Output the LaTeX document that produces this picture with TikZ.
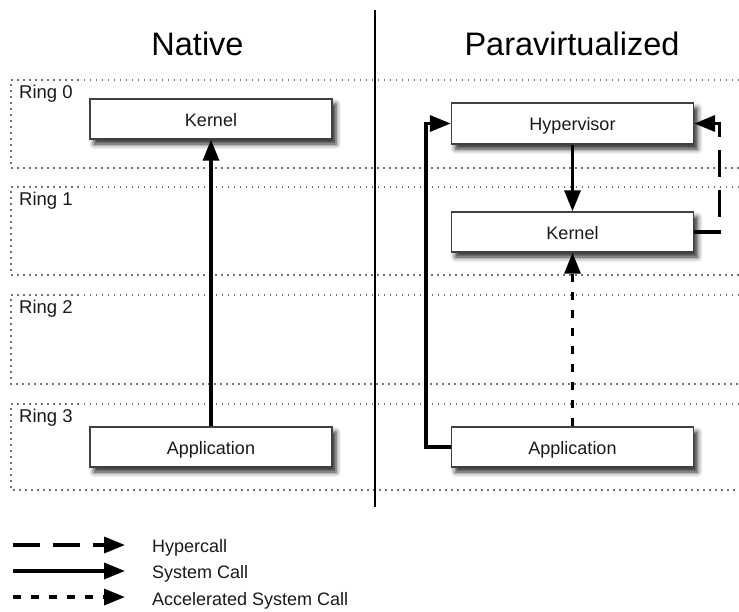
\documentclass[tikz,border=0pt]{standalone}
\usepackage{fontspec}
\setmainfont{Liberation Sans}
\usetikzlibrary{arrows.meta,shadows.blur}
\begin{document}
\begin{tikzpicture}[x=1pt,y=-1pt,
 ring/.style={draw=black!55, line width=1.3pt, dash pattern=on 1.5pt off 4.5pt},
 ringlabel/.style={anchor=base west, inner sep=0pt, font=\fontsize{18.5}{20}\selectfont, text=black!90},
 box/.style={draw=black!75, line width=1.4pt, fill=white, minimum width=242pt, minimum height=40pt, inner sep=0pt, text height=14pt, text depth=0pt, font=\fontsize{18}{20}\selectfont, text=black!90, blur shadow={shadow xshift=4pt, shadow yshift=-5pt, shadow blur radius=5pt, shadow opacity=85}},
 title/.style={anchor=base, inner sep=0pt, font=\fontsize{32.5}{36}\selectfont},
 call/.style={line width=3.4pt, -{Triangle[length=21pt,width=16pt]}},
 hyper/.style={call, dash pattern=on 27pt off 13pt},
 accel/.style={call, dash pattern=on 8pt off 10pt},
 legendtext/.style={anchor=base west, inner sep=0pt, font=\fontsize{18}{20}\selectfont, text=black!90}
]
\useasboundingbox (0,0) rectangle (739,611);

% ring bands
\draw[ring] (739,80) -- (11,80) -- (11,168) -- (739,168);
\draw[ring] (739,187) -- (11,187) -- (11,275) -- (739,275);
\draw[ring] (739,295) -- (11,295) -- (11,384) -- (739,384);
\draw[ring] (739,404) -- (11,404) -- (11,490) -- (739,490);
\node[ringlabel] (r0) at (19,98) {Ring 0};
\node[ringlabel] (r1) at (19,205) {Ring 1};
\node[ringlabel] (r2) at (19,313) {Ring 2};
\node[ringlabel] (r3) at (19,422) {Ring 3};

% divider and titles
\draw[line width=1.8pt] (375,10) -- (375,507);
\node[title] (tnative) at (197.5,55) {Native};
\node[title] (tpara) at (572,55) {Paravirtualized};

% boxes
\node[box] (nkern) at (211,119) {Kernel};
\node[box] (napp) at (211,447) {Application};
\node[box, minimum height=41pt] (hyp) at (572.5,123.5) {Hypervisor};
\node[box] (pkern) at (572.5,232) {Kernel};
\node[box] (papp) at (572.5,447) {Application};

% connectors
\draw[call] (napp.north) -- (nkern.south);
\draw[call] (hyp.south) -- (pkern.north);
\draw[accel] (papp.north) -- (pkern.south);
\draw[call] (papp.west) -- ++(-25,0) |- (hyp.west);
\draw[hyper] (pkern.east) -- ++(25,0) |- (hyp.east);

% legend
\coordinate (l1s) at (13,545); \coordinate (l1e) at (125,545);
\coordinate (l2s) at (13,571); \coordinate (l2e) at (125,571);
\coordinate (l3s) at (13,597); \coordinate (l3e) at (125,597);
\draw[hyper] (l1s) -- (l1e);
\draw[call] (l2s) -- (l2e);
\draw[accel] (l3s) -- (l3e);
\node[legendtext] (t1) at (152,552) {Hypercall};
\node[legendtext] (t2) at (152,578.5) {System Call};
\node[legendtext] (t3) at (152,605) {Accelerated System Call};
\end{tikzpicture}
\end{document}
